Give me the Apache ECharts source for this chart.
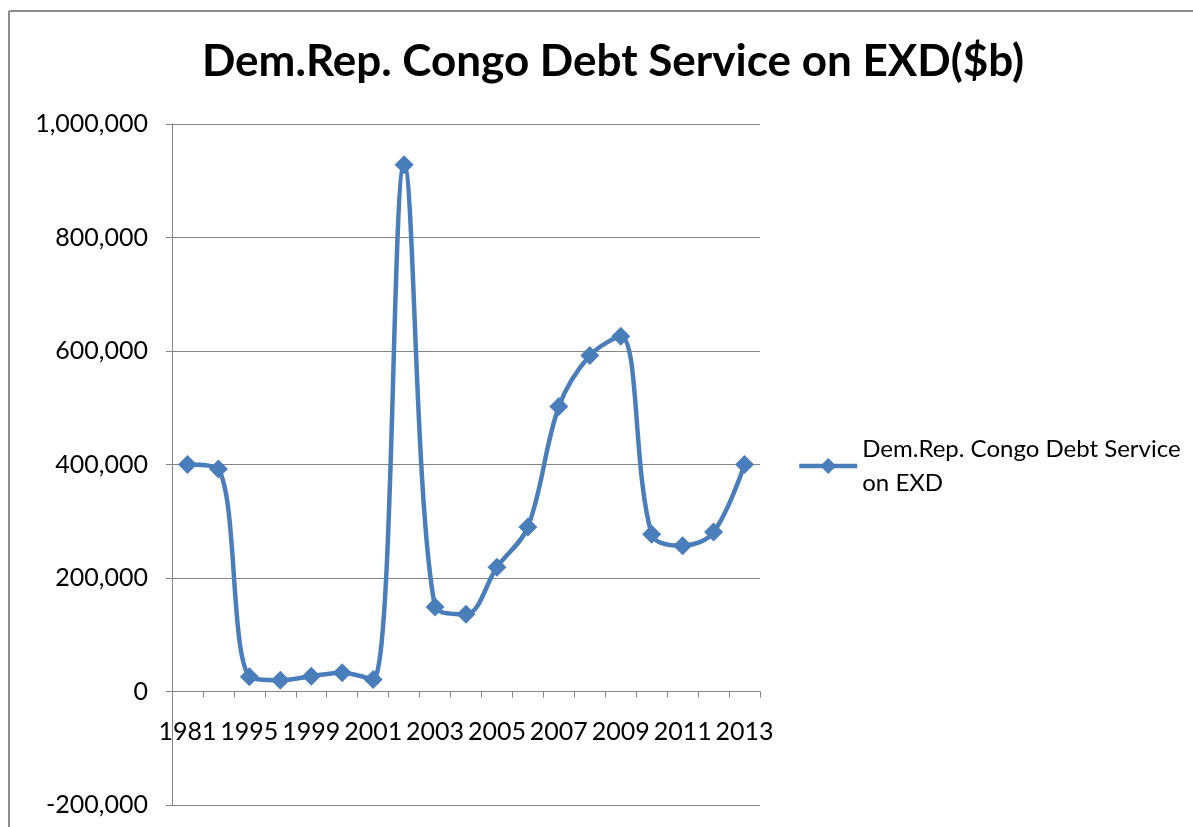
<!DOCTYPE html>
<html>
<head>
<meta charset="utf-8">
<script src="https://cdn.jsdelivr.net/npm/echarts@6/dist/echarts.min.js"></script>
<style>
html,body{margin:0;padding:0;background:#fff;}
#chart{width:1193px;height:827px;}
</style>
</head>
<body>
<div id="chart"></div>
<script>
var categories = ['1981','1990','1995','1997','1999','2000','2001','2002','2003','2004','2005','2006','2007','2008','2009','2010','2011','2012','2013'];
var seriesName = 'Dem.Rep. Congo Debt Service on EXD';
var values = [400000, 392000, 26000, 20000, 27000, 33000, 21000, 928000, 149000, 136000, 219000, 290000, 502000, 592000, 626000, 277000, 257000, 281000, 400000];
var yTicks = {min: -200000, max: 1000000, interval: 200000};
var titleText = 'Dem.Rep. Congo Debt Service on EXD($b)';

var FONT = 'Lato';
var BLUE = '#4A7EBB';
var chart = echarts.init(document.getElementById('chart'), null, {renderer: 'canvas'});
chart.setOption({
  backgroundColor: '#ffffff',
  animation: false,
  title: {
    text: titleText,
    left: 608, textAlign: 'center',
    top: 35,
    textStyle: {fontFamily: FONT, fontWeight: 'bold', fontSize: 44, color: '#000'}
  },
  graphic: [
    {type: 'line', shape: {x1: 9, y1: 11, x2: 1300, y2: 11}, style: {stroke: '#8c8c8c', lineWidth: 2}},
    {type: 'line', shape: {x1: 9, y1: 11, x2: 9, y2: 900}, style: {stroke: '#8c8c8c', lineWidth: 2}}
  ],
  legend: {
    left: 792, top: 410,
    orient: 'vertical',
    itemWidth: 58, itemHeight: 20,
    itemGap: 4,
    data: [{name: seriesName, lineStyle: {width: 4.5, color: BLUE}}],
    formatter: function () { return 'Dem.Rep. Congo Debt Service\non EXD'; },
    textStyle: {fontFamily: FONT, fontSize: 24, color: '#000', lineHeight: 34, padding: [34, 0, 0, 0]}
  },
  grid: {left: 172, right: 433, top: 124, bottom: 22, containLabel: false, outerBoundsMode: 'none'},
  xAxis: {
    type: 'category',
    data: categories,
    boundaryGap: true,
    axisLine: {onZero: true, lineStyle: {color: '#868686', width: 1}},
    axisTick: {show: true, interval: 0, length: 6, lineStyle: {color: '#868686'}},
    axisLabel: {interval: 1, margin: -86, fontFamily: FONT, fontSize: 25, color: '#000'},
    splitLine: {show: false}
  },
  yAxis: {
    type: 'value',
    min: yTicks.min, max: yTicks.max, interval: yTicks.interval,
    axisLine: {show: true, lineStyle: {color: '#868686', width: 1}},
    axisTick: {show: true, length: 6, lineStyle: {color: '#868686'}},
    axisLabel: {margin: 24, fontFamily: FONT, fontSize: 25, color: '#000',
      formatter: function (v) { return v.toLocaleString('en-US'); }},
    splitLine: {show: true, lineStyle: {color: '#868686', width: 1}}
  },
  series: [{
    name: seriesName,
    type: 'line',
    data: values,
    smooth: 0.35,
    symbol: 'diamond',
    symbolSize: 19,
    lineStyle: {color: BLUE, width: 4.5},
    itemStyle: {color: BLUE},
    z: 5
  }]
});
</script>
</body>
</html>
